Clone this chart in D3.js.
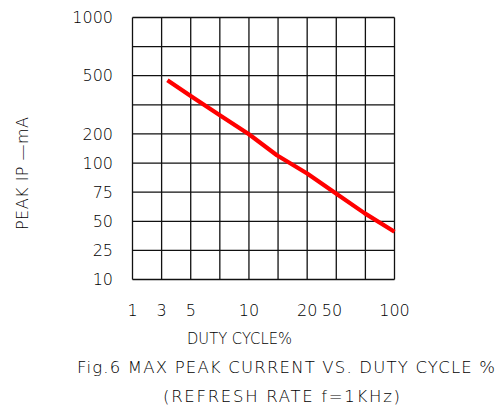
<!DOCTYPE html>
<html><head><meta charset="utf-8">
<script src="https://cdn.jsdelivr.net/npm/d3@7"></script>
<style>body{margin:0;background:#fff}text{font-family:"DejaVu Sans",sans-serif;font-weight:200;fill:#000}</style>
</head><body><svg id="c" width="500" height="409"></svg>
<script>
// data
const dutyCycle = [3.4, 5, 7.5, 10, 14.8, 20, 53, 76, 100];
const peakCurrent = [477, 395, 296, 199, 127, 91, 74, 57, 41];
const xTicks = [1, 3, 5, 10, 20, 50, 100];
const yTicks = [1000, 500, 200, 100, 75, 50, 25, 10];

const svg = d3.select("#c");
const L = 132.5, R = 394.5, T = 17.5, B = 279.5;
const nCols = 9, nRows = 9;

// grid-unit scales (the chart's axes are irregular)
const gx = d3.scaleLinear().domain([0, nCols]).range([L, R]);
const gy = d3.scaleLinear().domain([0, nRows]).range([T, B]);
const x = d3.scaleLinear().domain(xTicks).range([0, 1, 2, 4, 6, 6.85, 9].map(gx));
const y = d3.scaleLinear().domain(yTicks).range([0, 2, 4, 5, 6, 7, 8, 9].map(gy));

const g = svg.append("g");
g.selectAll("line.v").data(d3.range(nCols + 1)).join("line")
  .attr("x1", d => gx(d)).attr("x2", d => gx(d)).attr("y1", T).attr("y2", B)
  .attr("stroke", "#111").attr("stroke-width", 1.3);
g.selectAll("line.h").data(d3.range(nRows + 1)).join("line")
  .attr("y1", d => gy(d)).attr("y2", d => gy(d)).attr("x1", L).attr("x2", R)
  .attr("stroke", "#111").attr("stroke-width", 1.3);

svg.append("path").datum(dutyCycle.map((d, i) => [d, peakCurrent[i]]))
  .attr("fill", "none").attr("stroke", "#ff0000").attr("stroke-width", 4.2)
  .attr("stroke-linecap", "butt").attr("stroke-linejoin", "round")
  .attr("d", d3.line().x(d => x(d[0])).y(d => y(d[1])));

svg.append("g").selectAll("text").data(yTicks).join("text")
  .attr("x", 113).attr("y", d => y(d)).attr("dy", "0.36em")
  .attr("text-anchor", "end").attr("font-size", 16).text(d => d);

svg.append("g").selectAll("text").data(xTicks).join("text")
  .attr("x", d => x(d)).attr("y", 316).attr("text-anchor", "middle")
  .attr("font-size", 16).text(d => d);

svg.append("text").attr("x", 239.5).attr("y", 344).attr("text-anchor", "middle")
  .attr("font-size", 15).attr("textLength", 105).attr("lengthAdjust", "spacingAndGlyphs").text("DUTY CYCLE%");
svg.append("text").attr("x", 286).attr("y", 373).attr("text-anchor", "middle")
  .attr("font-size", 16.5).attr("textLength", 418).attr("lengthAdjust", "spacing").text("Fig.6 MAX PEAK CURRENT VS. DUTY CYCLE %");
svg.append("text").attr("x", 281.5).attr("y", 402).attr("text-anchor", "middle")
  .attr("font-size", 16.5).attr("textLength", 237).attr("lengthAdjust", "spacing").text("(REFRESH RATE f=1KHz)");
svg.append("text").attr("transform", "translate(28,173.5) rotate(-90)").attr("text-anchor", "middle")
  .attr("font-size", 16).attr("textLength", 113).attr("lengthAdjust", "spacing").text("PEAK IP  \u2014mA");
</script></body></html>
